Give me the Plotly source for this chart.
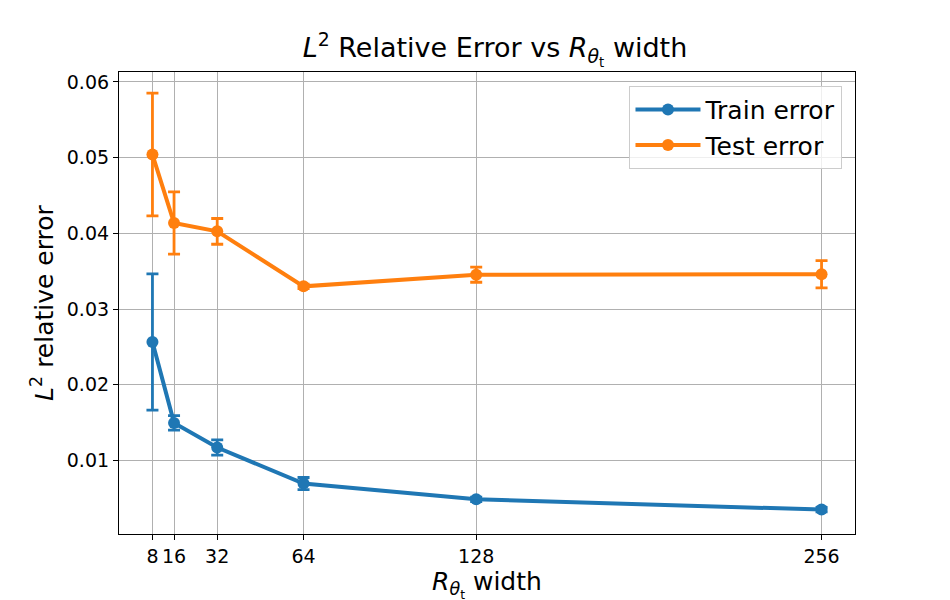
import plotly.graph_objects as go

# R_theta_t width values and measured errors (mean, std)
widths = [8, 16, 32, 64, 128, 256]

train_err = [0.02565, 0.01497, 0.01172, 0.00696, 0.00488, 0.00352]
train_std = [0.0090, 0.00095, 0.0010, 0.0008, 0.0003, 0.0003]

test_err = [0.0504, 0.04136, 0.04026, 0.0330, 0.03454, 0.03459]
test_std = [0.0081, 0.0041, 0.0017, 0.0003, 0.0010, 0.0018]

font = "DejaVu Sans"

fig = go.Figure()

fig.add_trace(go.Scatter(
    x=widths, y=train_err, name="Train error", mode="lines+markers",
    line=dict(color="#1f77b4", width=4),
    marker=dict(size=12, color="#1f77b4"),
    error_y=dict(type="data", array=train_std, visible=True,
                 color="#1f77b4", thickness=2.8, width=6),
))
fig.add_trace(go.Scatter(
    x=widths, y=test_err, name="Test error", mode="lines+markers",
    line=dict(color="#ff7f0e", width=4),
    marker=dict(size=12, color="#ff7f0e"),
    error_y=dict(type="data", array=test_std, visible=True,
                 color="#ff7f0e", thickness=2.8, width=6),
))

axis_style = dict(
    showline=True, linecolor="black", linewidth=1.2, mirror=True,
    showgrid=True, gridcolor="#b0b0b0", gridwidth=1,
    ticks="outside", ticklen=5, tickcolor="black", tickwidth=1.2,
    zeroline=False, tickfont=dict(family=font, size=19, color="black"),
)

fig.update_xaxes(
    range=[-4.4, 268.4], tickvals=widths, ticktext=[str(w) for w in widths],
    title=dict(text="<i>R</i><sub><i>θ</i><sub>t</sub></sub> width",
               font=dict(family=font, size=25, color="black"), standoff=6),
    **axis_style,
)
fig.update_yaxes(
    range=[0.0003, 0.0613], tickvals=[0.01, 0.02, 0.03, 0.04, 0.05, 0.06],
    tickformat=".2f",
    title=dict(text="<i>L</i><sup>2</sup> relative error",
               font=dict(family=font, size=25, color="black"), standoff=6),
    **axis_style,
)

fig.update_layout(
    width=950, height=600,
    margin=dict(l=111, r=103, t=64, b=74),
    paper_bgcolor="white", plot_bgcolor="white",
    font=dict(family=font, color="black"),
    title=dict(
        text="<i>L</i><sup>2</sup> Relative Error vs <i>R</i><sub><i>θ</i><sub>t</sub></sub> width",
        font=dict(family=font, size=27, color="black"),
        x=0.5126, xanchor="center", yref="container", y=0.934, yanchor="middle",
    ),
    legend=dict(
        x=0.983, y=0.97, xanchor="right", yanchor="top",
        bgcolor="rgba(255,255,255,0.8)", bordercolor="#cccccc", borderwidth=1,
        font=dict(family=font, size=25, color="black"),
        itemwidth=65,
    ),
    showlegend=True,
)

fig.write_html("out.html")
